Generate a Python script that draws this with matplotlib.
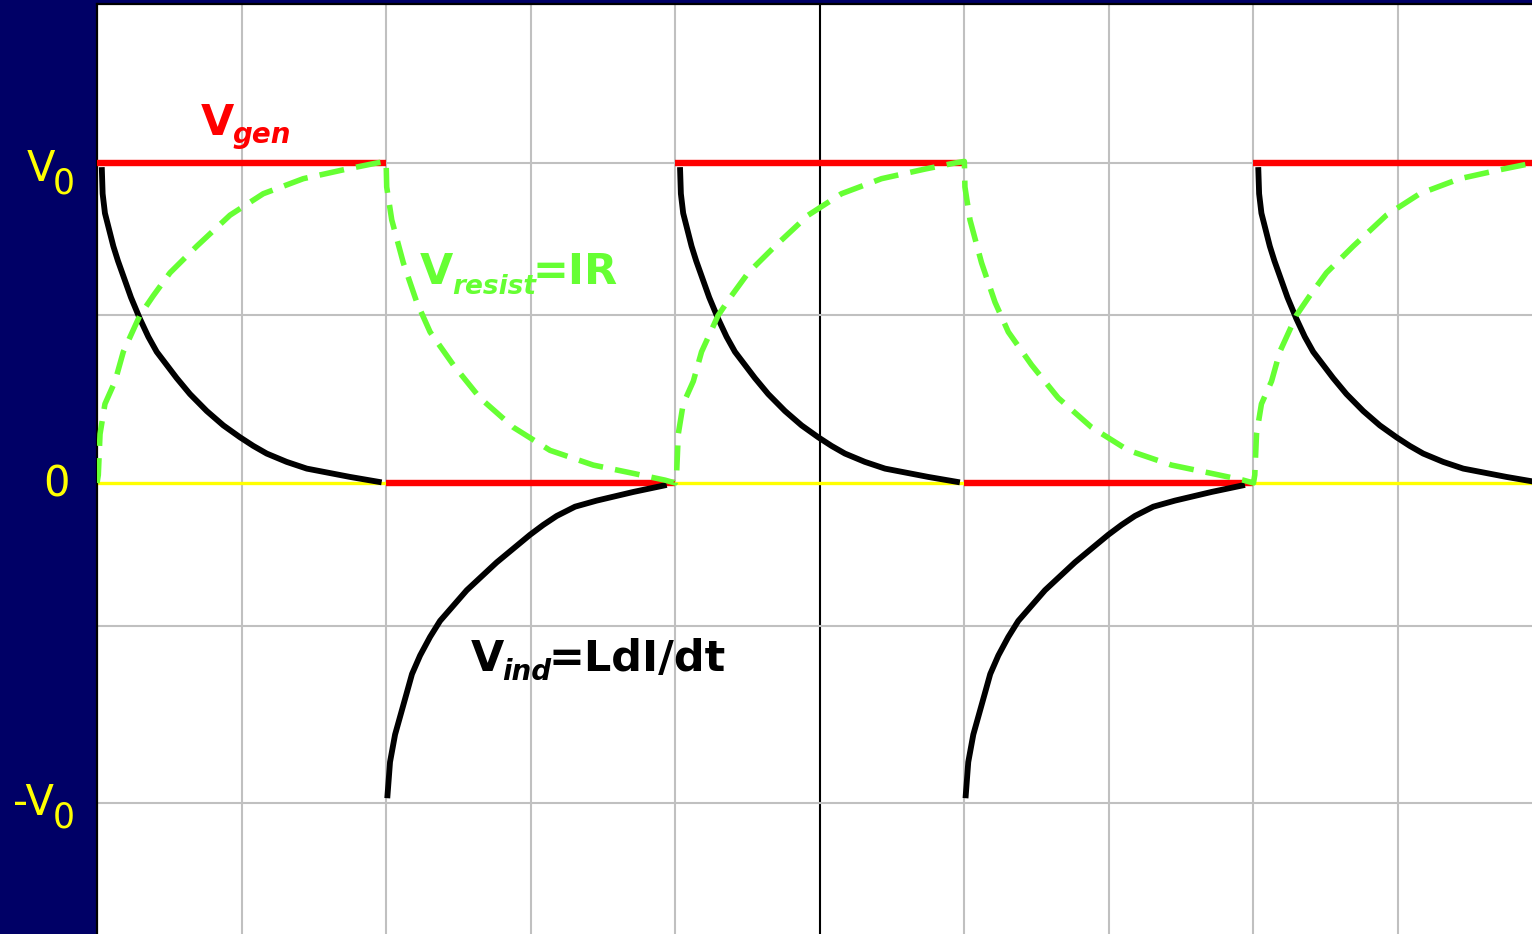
import matplotlib.pyplot as plt
import numpy as np

# square-wave generator: level held over each half period
gen_edges = [0, 2, 4, 6, 8, 10]
gen_levels = [1, 0, 1, 0, 1]
period = 4

# resistor voltage over one period (charging then discharging), in units of V0
rise_t = [0, 0.009, 0.021, 0.055, 0.125, 0.182, 0.297, 0.389, 0.505, 0.690,
          0.920, 1.150, 1.427, 1.727, 1.935, 2.0]
rise_v = [0, 0.025, 0.153, 0.247, 0.318, 0.410, 0.524, 0.585, 0.657, 0.740,
          0.837, 0.904, 0.951, 0.981, 1.0, 1.005]
fall_t = [0, 0.004, 0.039, 0.119, 0.212, 0.304, 0.465, 0.649, 0.880, 1.134,
          1.433, 1.710, 1.929, 2.0]
fall_v = [1.005, 0.925, 0.822, 0.688, 0.565, 0.472, 0.369, 0.266, 0.174, 0.102,
          0.056, 0.030, 0.009, 0.0]

# inductor voltage after the switch-on and switch-off edges
ind_up_t = [0.033, 0.039, 0.055, 0.113, 0.145, 0.235, 0.297, 0.355, 0.413, 0.482,
            0.551, 0.643, 0.759, 0.874, 0.989, 1.081, 1.174, 1.312, 1.451, 1.750,
            1.969]
ind_up_v = [0.987, 0.904, 0.843, 0.740, 0.694, 0.580, 0.513, 0.457, 0.410, 0.369,
            0.328, 0.278, 0.225, 0.180, 0.143, 0.116, 0.092, 0.066, 0.045, 0.019,
            0.002]
ind_dn_t = [0.008, 0.027, 0.062, 0.142, 0.179, 0.235, 0.304, 0.373, 0.558, 0.765,
            0.995, 1.087, 1.180, 1.307, 1.457, 1.710, 1.941]
ind_dn_v = [-0.985, -0.872, -0.786, -0.657, -0.597, -0.539, -0.481, -0.431, -0.335,
            -0.248, -0.162, -0.131, -0.103, -0.074, -0.055, -0.028, -0.006]

n_cycles = 3
y_ticks = [1, 0, -1]
grid_y = [0.525, -0.447]

navy = '#000066'
green = '#66FF33'
yellow = '#FFFF00'

fig = plt.figure(figsize=(15.32, 9.34), dpi=100, facecolor=navy)
ax = fig.add_axes([97 / 1532, 0, 1 - 97 / 1532, 930 / 934])
ax.set_facecolor('white')
ax.set_xlim(0, 1435 / 144.56)
ax.set_ylim(-451 / 320, 479 / 320)

for s in ['right', 'bottom']:
  ax.spines[s].set_visible(False)
ax.spines['left'].set_linewidth(1.6)
ax.spines['top'].set_linewidth(1.6)
ax.set_xticks([])
ax.set_yticks([])

# grid
for gx in range(1, 10):
  if gx == 5:
    ax.axvline(gx, color='black', lw=1.5, zorder=1)
  else:
    ax.axvline(gx, color='#C0C0C0', lw=1.5, zorder=1)
for gy in grid_y + [1, -1]:
  ax.axhline(gy, color='#C0C0C0', lw=1.5, zorder=1)
ax.axhline(0, color=yellow, lw=2.4, zorder=2)

# generator voltage
ax.hlines(gen_levels, gen_edges[:-1], gen_edges[1:], colors='#FF0000', lw=4.6, zorder=3)

# inductor voltage
for k in range(n_cycles):
  t0 = k * period
  ax.plot(t0 + np.array(ind_up_t), ind_up_v, color='black', lw=4.2,
          solid_capstyle='butt', solid_joinstyle='round', zorder=4)
  ax.plot(t0 + 2 + np.array(ind_dn_t), ind_dn_v, color='black', lw=4.2,
          solid_capstyle='butt', solid_joinstyle='round', zorder=4)

# resistor voltage, one continuous dashed trace
rx, rv = [], []
for k in range(n_cycles):
  t0 = k * period
  rx += list(t0 + np.array(rise_t)) + list(t0 + 2 + np.array(fall_t))
  rv += rise_v + fall_v
ax.plot(rx, rv, color=green, lw=4.0, dashes=(4.5, 2.2), zorder=5)

# curve labels
bold = dict(fontfamily='DejaVu Sans', fontweight='bold', va='baseline', ha='left', zorder=6)
sub = dict(fontfamily='DejaVu Sans', fontweight='bold', fontstyle='italic',
           va='baseline', ha='left', zorder=6)
ax.text(0.719, 1.0875, 'V', color='#FF0000', fontsize=31, **bold)
ax.text(0.935, 1.0625, 'gen', color='#FF0000', fontsize=20, **sub)
ax.text(2.234, 0.622, 'V', color=green, fontsize=31, **bold)
ax.text(2.456, 0.591, 'resist', color=green, fontsize=19, **sub)
ax.text(3.016, 0.622, '=IR', color=green, fontsize=31, **bold)
ax.text(2.587, -0.5875, 'V', color='black', fontsize=31, **bold)
ax.text(2.800, -0.616, 'ind', color='black', fontsize=20, **sub)
ax.text(3.120, -0.5875, '=LdI/dt', color='black', fontsize=31, **bold)

# level labels on the left strip
lab = dict(color=yellow, fontfamily='DejaVu Sans', va='baseline', ha='left', clip_on=False)
ax.text(-70 / 144.56, y_ticks[0] - 18 / 320, 'V', fontsize=30, **lab)
ax.text(-44 / 144.56, y_ticks[0] - 30 / 320, '0', fontsize=25, **lab)
ax.text(-54 / 144.56, y_ticks[1] - 14 / 320, '0', fontsize=30, **lab)
ax.text(-84 / 144.56, y_ticks[2] - 12 / 320, '-V', fontsize=30, **lab)
ax.text(-44 / 144.56, y_ticks[2] - 25 / 320, '0', fontsize=25, **lab)

fig.savefig('out.png', dpi=100, facecolor=navy)
plt.close()
